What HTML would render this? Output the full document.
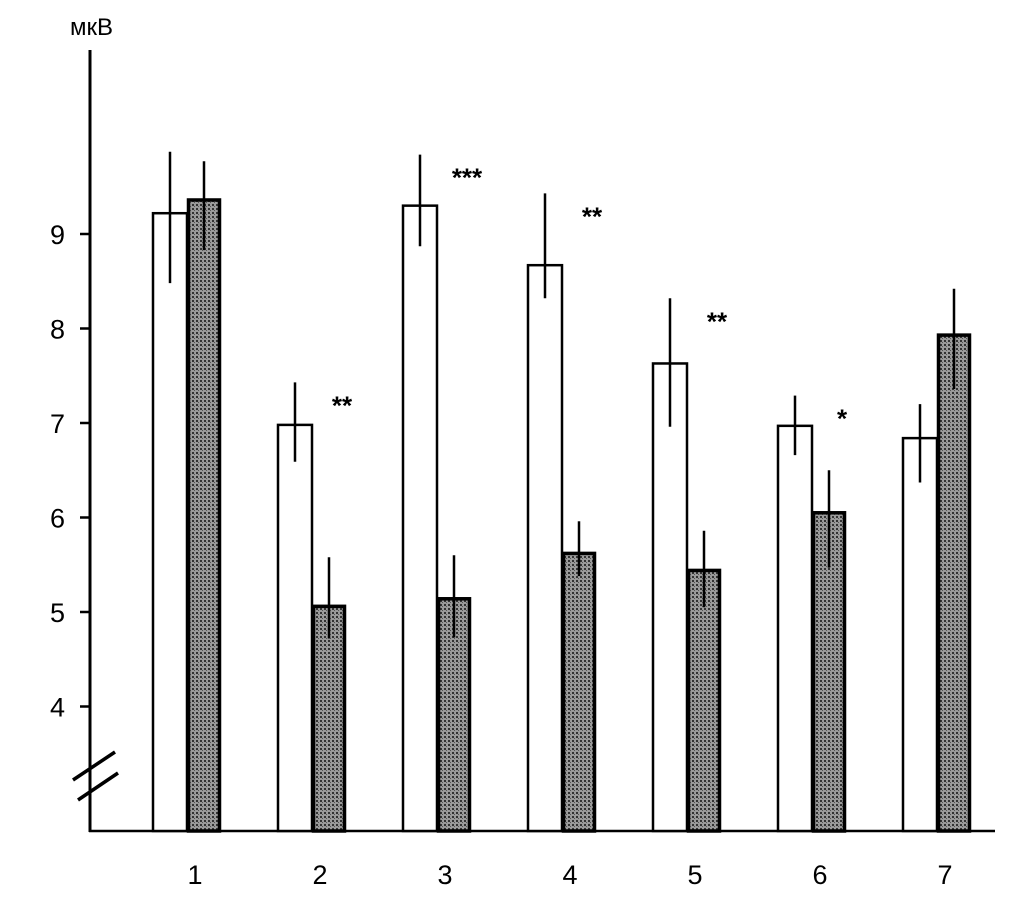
<!DOCTYPE html>
<html><head><meta charset="utf-8"><style>body{margin:0;background:#fff}svg{display:block}text{font-family:"Liberation Sans",sans-serif;fill:#000}</style></head>
<body>
<svg id="chart" width="1013" height="911" viewBox="0 0 1013 911">
<defs><pattern id="dots" width="4" height="4" patternUnits="userSpaceOnUse"><rect width="4" height="4" fill="#9a9a9a"/><rect width="2" height="2" fill="#333"/><rect x="2" y="2" width="1" height="1" fill="#555"/></pattern></defs>
<g id="axes"></g>
<g id="bars"></g>
</svg>
<script>
const categories = ["1","2","3","4","5","6","7"];
const whiteVals = [9.22, 6.98, 9.30, 8.67, 7.63, 6.97, 6.84];
const whiteLo = [8.48, 6.59, 8.87, 8.32, 6.96, 6.66, 6.37];
const whiteHi = [9.87, 7.43, 9.84, 9.43, 8.32, 7.29, 7.20];
const grayVals = [9.36, 5.06, 5.14, 5.62, 5.44, 6.05, 7.93];
const grayLo = [8.83, 4.72, 4.73, 5.38, 5.05, 5.47, 7.36];
const grayHi = [9.77, 5.58, 5.60, 5.96, 5.86, 6.50, 8.42];
const stars = ["", "**", "***", "**", "**", "*", ""];
const yTicks = [4,5,6,7,8,9];
const NS="http://www.w3.org/2000/svg";
const y = v => 234 - (v-9)*94.5;
const xc = i => 187 + 125*i;
const BASE = 831, BW = 34;
function mk(tag, attrs, parent, txt){const e=document.createElementNS(NS,tag);for(const k in attrs)e.setAttribute(k,attrs[k]);if(txt!==undefined)e.textContent=txt;parent.appendChild(e);return e;}
const ax=document.getElementById('axes'), bg=document.getElementById('bars');
let e;
e=mk('line',{x1:90,y1:50,x2:90,y2:BASE+1,stroke:'#000','stroke-width':3},ax);


e=mk('line',{x1:89,y1:BASE,x2:995,y2:BASE,stroke:'#000','stroke-width':2.5},ax);


e=mk('text',{x:70,y:35,'font-size':24},ax,'мкВ');


e=mk('path',{d:'M73,780 L115,752 M78,800 L118,773',stroke:'#000','stroke-width':3.5,fill:'none'},ax);


yTicks.forEach(t=>{
 e=mk('line',{x1:80,y1:y(t),x2:90,y2:y(t),stroke:'#000','stroke-width':2.5},ax);
 
 
 e=mk('text',{x:50,y:y(t)+10,'font-size':27},ax,String(t));
 
 
});
categories.forEach((c,i)=>{
 const cx=xc(i);
 e=mk('text',{x:cx+8,y:884,'font-size':27,'text-anchor':'middle'},ax,c);
 
 
 e=mk('rect',{x:cx-BW,y:y(whiteVals[i]),width:BW,height:BASE-y(whiteVals[i]),fill:'#fff',stroke:'#000','stroke-width':2.5},bg);
 
 
 e=mk('rect',{x:cx+1.5,y:y(grayVals[i]),width:BW-3,height:BASE-y(grayVals[i]),fill:'url(#dots)',stroke:'#000','stroke-width':3.5},bg);
 
 
 e=mk('line',{x1:cx-BW/2,y1:y(whiteHi[i]),x2:cx-BW/2,y2:y(whiteLo[i]),stroke:'#000','stroke-width':2.5},bg);
 
 
 e=mk('line',{x1:cx+BW/2,y1:y(grayHi[i]),x2:cx+BW/2,y2:y(grayLo[i]),stroke:'#000','stroke-width':2.5},bg);
 
 
 if(stars[i]){
  e=mk('text',{x:cx+30,y:y(whiteHi[i])+32,'font-size':26,'font-weight':'bold','text-anchor':'middle'},bg,stars[i]);
  
  
 }
});
</script>
</body></html>
